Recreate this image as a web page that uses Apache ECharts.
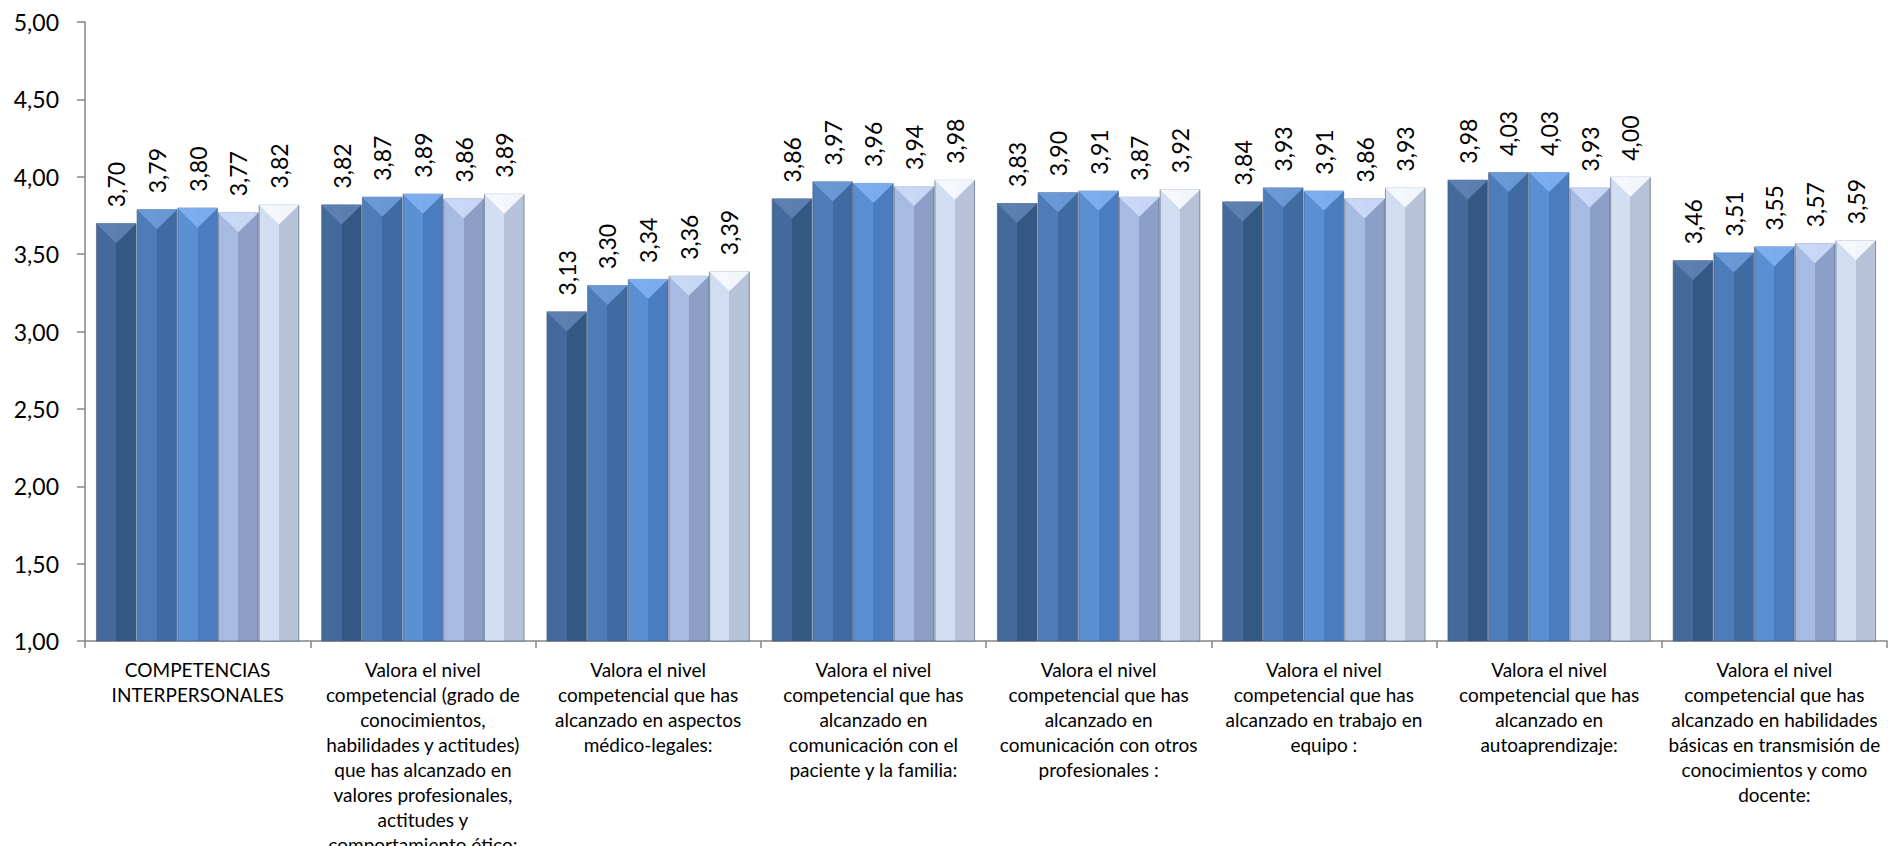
<!DOCTYPE html>
<html><head><meta charset="utf-8">
<script src="https://cdn.jsdelivr.net/npm/echarts@6/dist/echarts.min.js"></script>
<style>html,body{margin:0;padding:0;background:#fff}#c{width:1888px;height:846px}</style>
</head><body><div id="c"></div>
<script>
const categories = [
  "COMPETENCIAS\nINTERPERSONALES",
  "Valora el nivel\ncompetencial (grado de\nconocimientos,\nhabilidades y actitudes)\nque has alcanzado en\nvalores profesionales,\nactitudes y\ncomportamiento ético:",
  "Valora el nivel\ncompetencial que has\nalcanzado en aspectos\nmédico-legales:",
  "Valora el nivel\ncompetencial que has\nalcanzado en\ncomunicación con el\npaciente y la familia:",
  "Valora el nivel\ncompetencial que has\nalcanzado en\ncomunicación con otros\nprofesionales :",
  "Valora el nivel\ncompetencial que has\nalcanzado en trabajo en\nequipo :",
  "Valora el nivel\ncompetencial que has\nalcanzado en\nautoaprendizaje:",
  "Valora el nivel\ncompetencial que has\nalcanzado en habilidades\nbásicas en transmisión de\nconocimientos y como\ndocente:"
];
const serie1 = [3.70, 3.82, 3.13, 3.86, 3.83, 3.84, 3.98, 3.46];
const serie2 = [3.79, 3.87, 3.30, 3.97, 3.90, 3.93, 4.03, 3.51];
const serie3 = [3.80, 3.89, 3.34, 3.96, 3.91, 3.91, 4.03, 3.55];
const serie4 = [3.77, 3.86, 3.36, 3.94, 3.87, 3.86, 3.93, 3.57];
const serie5 = [3.82, 3.89, 3.39, 3.98, 3.92, 3.93, 4.00, 3.59];
const yTicks = [1, 1.5, 2, 2.5, 3, 3.5, 4, 4.5, 5];

const FONT = "Lato, 'Open Sans', sans-serif";
const palette = [
  ['#446a9b', '#335884', '#5f83b4'],
  ['#4d7db9', '#3f6ba2', '#6e9cd8'],
  ['#5a8fd4', '#4a7cbf', '#80b1f2'],
  ['#a7bbe2', '#8d9fc6', '#cddcf8'],
  ['#d1ddf1', '#b6c2d8', '#f8fbff']
];
function grad(p){
  return {type:'linear',x:0,y:0,x2:1,y2:0,colorStops:[
    {offset:0,color:p[0]},{offset:0.5,color:p[0]},{offset:0.5,color:p[1]},{offset:1,color:p[1]}]};
}
const fmt = v => v.toFixed(2).replace('.', ',');
const all = [serie1, serie2, serie3, serie4, serie5];
const series = [];
all.forEach((d,i)=>series.push({
  type:'bar', name:'S'+(i+1), data:d,
  barGap:'0%', barCategoryGap:'9.7%',
  itemStyle:{color:grad(palette[i]), borderColor:'rgba(70,85,110,0.6)', borderWidth:1},
  label:{show:true, position:['50%', -16], rotate:90, align:'left', verticalAlign:'middle',
    formatter:p=>fmt(p.value), fontFamily:FONT, fontSize:23, color:'#000'}
}));
all.forEach((d,i)=>series.push({
  type:'pictorialBar', name:'T'+(i+1), data:d,
  barGap:'0%', barCategoryGap:'9.7%',
  symbol:'triangle', symbolRotate:180, symbolPosition:'end',
  symbolSize:['100%', 20], symbolOffset:[0, 0], z:3,
  itemStyle:{color:palette[i][2], opacity:0.9},
  silent:true
}));

const chart = echarts.init(document.getElementById('c'), null, {renderer:'svg'});
chart.setOption({
  animation:false,
  grid:{left:85, right:1, top:22, bottom:205, containLabel:false, outerBoundsMode:'none'},
  xAxis:{type:'category', data:categories,
    axisLine:{lineStyle:{color:'#868686', width:1.5}},
    axisTick:{show:true, alignWithLabel:false, length:7, lineStyle:{color:'#868686', width:1.5}},
    axisLabel:{interval:0, fontFamily:FONT, fontSize:19, lineHeight:25, color:'#000', margin:16, align:'center'}},
  yAxis:{type:'value', min:1, max:5, interval:0.5,
    axisLine:{show:true, lineStyle:{color:'#868686', width:1.5}},
    axisTick:{show:true, length:8, lineStyle:{color:'#868686', width:1.5}},
    splitLine:{show:false},
    axisLabel:{formatter:v=>fmt(v), fontFamily:FONT, fontSize:23, color:'#000', margin:26}},
  series
});
</script></body></html>
